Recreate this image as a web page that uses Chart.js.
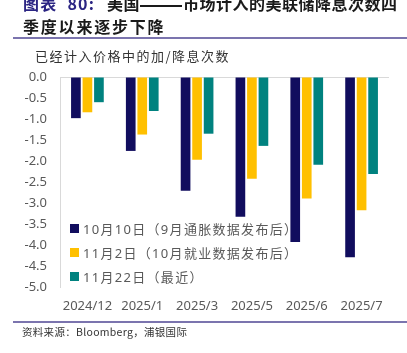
<!DOCTYPE html>
<html>
<head>
<meta charset="utf-8">
<script src="https://cdn.jsdelivr.net/npm/chart.js@4/dist/chart.umd.min.js"></script>
<style>
	html, body { margin: 0; padding: 0; background: #fff; }
	#wrap { position: relative; width: 407px; height: 353px; overflow: hidden; font-family: "Noto Sans", "Noto Sans CJK SC", sans-serif; }
	#chart { position: absolute; left: 0; top: 0; }
	.title { position: absolute; left: 23px; top: -8px; font-family: "Noto Sans CJK SC", sans-serif; font-weight: 700; font-size: 16px; line-height: 23px; color: #1a1a1a; white-space: nowrap; }
	.title .l1 { letter-spacing: 0.5px; }
	.title .l2 { letter-spacing: 1.8px; }
	.title .num { color: #2b2583; letter-spacing: 1.2px; }
	.title .gap1 { display: inline-block; width: 10px; }
	.title .gap2 { display: inline-block; width: 12px; }
	.title .dash { display: inline-block; width: 42px; height: 2px; background: #1a1a1a; vertical-align: middle; margin: 0 1px 0 0; }
	.rule { position: absolute; left: 13px; right: 0; height: 2px; background: #7b74ae; }
	.sub { position: absolute; left: 35px; top: 46px; font-family: "Noto Sans CJK SC", sans-serif; font-size: 13px; letter-spacing: 1.5px; color: #333; white-space: nowrap; }
	.src { position: absolute; left: 22px; top: 324px; font-family: "Noto Sans CJK SC", sans-serif; font-size: 10.5px; letter-spacing: 0.3px; color: #333; white-space: nowrap; }
	#legend { position: absolute; left: 70px; top: 216px; }
	#legend .item { height: 24.3px; display: flex; align-items: center; font-family: "Noto Sans", "Noto Sans CJK SC", sans-serif; font-size: 13px; letter-spacing: 1.3px; color: #595959; white-space: nowrap; }
	#legend .box { width: 9px; height: 9px; margin-right: 4px; }
</style>
</head>
<body>
<div id="wrap">
	<canvas id="chart" width="407" height="353"></canvas>
	<div class="title"><span class="l1"><span class="num">图表<span class="gap1"></span>80:</span><span class="gap2"></span>美国<span class="dash"></span>市场计入的美联储降息次数四</span><br><span class="l2">季度以来逐步下降</span></div>
	<div class="rule" style="top:37px"></div>
	<div class="sub">已经计入价格中的加/降息次数</div>
	<div id="legend"></div>
	<div class="rule" style="top:321px"></div>
	<div class="src">资料来源：Bloomberg，浦银国际</div>
</div>
<script>
// Categories (meeting months)
const months = ['2024/12', '2025/1', '2025/3', '2025/5', '2025/6', '2025/7'];

// Cumulative hikes/cuts priced in, by snapshot date
const oct10 = [-0.98, -1.76, -2.71, -3.33, -3.93, -4.29];
const nov2 = [-0.84, -1.37, -1.97, -2.42, -2.89, -3.17];
const nov22 = [-0.60, -0.81, -1.35, -1.64, -2.09, -2.31];

const seriesNames = ['10月10日（9月通胀数据发布后）', '11月2日（10月就业数据发布后）', '11月22日（最近）'];
const seriesColors = ['#110d5e', '#ffc000', '#00827f'];

const ctx = document.getElementById('chart');
const chart = new Chart(ctx, {
	type: 'bar',
	data: {
		labels: months,
		datasets: [oct10, nov2, nov22].map((vals, i) => ({
			label: seriesNames[i],
			data: vals,
			backgroundColor: seriesColors[i],
			categoryPercentage: 0.63,
			barPercentage: 0.84
		}))
	},
	options: {
		responsive: false,
		animation: false,
		layout: { padding: { left: 0, top: 77, right: 18, bottom: 0 } },
		plugins: {
			legend: { display: false },
			tooltip: { enabled: false }
		},
		scales: {
			x: {
				grid: { display: false, drawTicks: false },
				border: { display: false },
				ticks: {
					padding: 11,
					maxRotation: 0,
					minRotation: 0,
					autoSkip: false,
					color: '#595959',
					font: { family: '"Noto Sans", sans-serif', size: 13 }
				},
				afterFit: s => { s.height = 66; }
			},
			y: {
				min: -5,
				max: 0,
				grid: {
					drawTicks: false,
					color: c => c.tick.value === 0 ? '#d9d9d9' : 'transparent'
				},
				border: { color: '#d9d9d9' },
				ticks: {
					stepSize: 0.5,
					padding: 13,
					color: '#595959',
					font: { family: '"Noto Sans", sans-serif', size: 13 },
					callback: v => v.toFixed(1)
				},
				afterFit: s => { s.width = 60; }
			}
		}
	}
});

// Legend inside the plot area
const legendEl = document.getElementById('legend');
chart.data.datasets.forEach(ds => {
	const item = document.createElement('div');
	item.className = 'item';
	item.innerHTML = '<span class="box" style="background:' + ds.backgroundColor + '"></span>' + ds.label;
	legendEl.appendChild(item);
});
</script>
</body>
</html>
